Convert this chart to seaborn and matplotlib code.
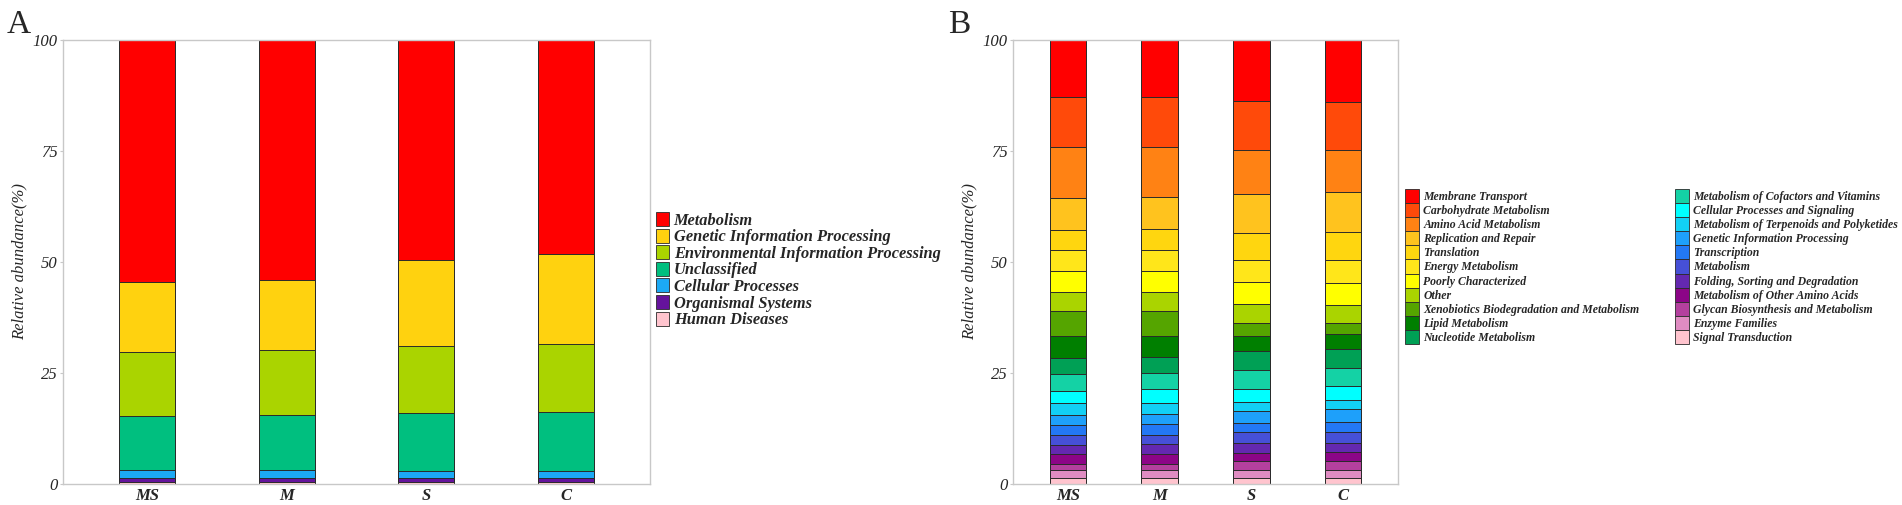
import matplotlib
matplotlib.use("Agg")
import matplotlib.pyplot as plt
from matplotlib.patches import Patch
import seaborn as sns
import pandas as pd

sns.set_style("white")
plt.rcParams["font.family"] = ["Liberation Serif", "DejaVu Serif"]

samples = ["MS", "M", "S", "C"]

# ---------- Panel A (legend order: top of stack -> bottom) ----------
a_categories = ["Metabolism", "Genetic Information Processing",
                "Environmental Information Processing", "Unclassified",
                "Cellular Processes", "Organismal Systems", "Human Diseases"]
a_colors = ["#FF0000", "#FFD20F", "#AAD400", "#00BF7F",
            "#1CA9F5", "#65139C", "#FFC4CE"]
a_MS = [54.6, 15.7, 14.4, 12.22, 1.65, 0.90, 0.53]
a_M = [54.0, 15.9, 14.5, 12.52, 1.65, 0.90, 0.53]
a_S = [49.5, 19.5, 15.1, 12.97, 1.58, 0.90, 0.45]
a_C = [48.2, 20.2, 15.5, 13.25, 1.57, 0.78, 0.50]

# ---------- Panel B (legend order: top of stack -> bottom) ----------
b_categories = ["Membrane Transport", "Carbohydrate Metabolism",
                "Amino Acid Metabolism", "Replication and Repair",
                "Translation", "Energy Metabolism", "Poorly Characterized",
                "Other", "Xenobiotics Biodegradation and Metabolism",
                "Lipid Metabolism", "Nucleotide Metabolism",
                "Metabolism of Cofactors and Vitamins",
                "Cellular Processes and Signaling",
                "Metabolism of Terpenoids and Polyketides",
                "Genetic Information Processing", "Transcription",
                "Metabolism", "Folding, Sorting and Degradation",
                "Metabolism of Other Amino Acids",
                "Glycan Biosynthesis and Metabolism", "Enzyme Families",
                "Signal Transduction"]
b_colors = ["#FF0000", "#FF4A0A", "#FF8214", "#FFC31E", "#FFD60F",
            "#FFE61A", "#FFFF00", "#AAD400", "#55A500", "#007F00",
            "#00A055", "#14D2A5", "#00FFFF", "#12D0F5", "#1EA0FA",
            "#2378F5", "#4650D7", "#6428B0", "#8C0587", "#B4409E",
            "#E08CC2", "#FFC4CE"]
b_MS = [12.9, 11.35, 11.35, 7.2, 4.5, 4.7, 4.7, 4.3, 5.8, 4.9, 3.5,
        3.8, 2.7, 2.8, 2.2, 2.2, 2.4, 2.0, 2.15, 1.49, 1.64, 1.42]
b_M = [13.0, 11.2, 11.2, 7.2, 4.7, 4.7, 4.7, 4.3, 5.6, 4.8, 3.6,
       3.7, 3.0, 2.6, 2.3, 2.3, 2.2, 2.1, 2.2, 1.54, 1.64, 1.42]
b_S = [13.9, 11.0, 9.9, 8.8, 5.9, 5.1, 4.9, 4.2, 2.9, 3.4, 4.4,
       4.2, 2.9, 2.1, 2.6, 2.2, 2.4, 2.3, 1.8, 1.9, 1.93, 1.27]
b_C = [14.0, 10.8, 9.5, 9.1, 6.2, 5.1, 5.0, 4.1, 2.5, 3.3, 4.4,
       4.0, 3.1, 2.1, 2.8, 2.3, 2.4, 2.2, 1.9, 2.0, 1.93, 1.27]

W, H = 1902, 505
fig = plt.figure(figsize=(W / 100, H / 100), dpi=100)
axA = fig.add_axes([63 / W, 21 / H, 587 / W, 444.5 / H])
axB = fig.add_axes([1013 / W, 21 / H, 385 / W, 444.5 / H])

EDGE = "#2a2a2a"


def stacked(ax, categories, colors, series):
    df = pd.DataFrame(series, index=categories, columns=samples)
    # cumulative from bottom of stack
    cum = df.iloc[::-1].cumsum().iloc[::-1]
    for cat, col in zip(categories, colors):
        d = pd.DataFrame({"sample": samples, "value": cum.loc[cat].values})
        sns.barplot(data=d, x="sample", y="value", order=samples, color=col,
                    saturation=1, width=0.4, edgecolor=EDGE, linewidth=0.7,
                    errorbar=None, ax=ax)
    ax.set_xlim(-0.6, 3.6)
    ax.set_ylim(0, 100)
    ax.set_yticks([0, 25, 50, 75, 100])
    ax.set_yticklabels(["0", "25", "50", "75", "100"],
                       fontstyle="italic", fontsize=12)
    ax.set_xticks(range(len(samples)))
    ax.set_xticklabels(samples, fontstyle="italic", fontweight="bold",
                       fontsize=12)
    ax.set_xlabel("")
    ax.set_ylabel("Relative abundance(%)", fontstyle="italic", fontsize=12)
    for sp in ax.spines.values():
        sp.set_visible(True)
        sp.set_color("#c8c8c8")
        sp.set_linewidth(1.0)
    ax.tick_params(axis="both", length=2, width=0.8, color="#c8c8c8",
                   pad=2, left=True, bottom=False)
    ax.tick_params(axis="x", pad=1)


stackedA = {s: v for s, v in zip(samples, [a_MS, a_M, a_S, a_C])}
stackedB = {s: v for s, v in zip(samples, [b_MS, b_M, b_S, b_C])}
stacked(axA, a_categories, a_colors, stackedA)
stacked(axB, b_categories, b_colors, stackedB)
axA.yaxis.set_label_coords(-36 / 587, 0.5)
axB.yaxis.set_label_coords(-36 / 385, 0.5)

# panel letters
fig.text(7 / W, 1 - 33 / H, "A", fontsize=24, va="baseline", ha="left")
fig.text(948 / W, 1 - 33 / H, "B", fontsize=24, va="baseline", ha="left")

legfont = {"family": "Liberation Serif", "style": "italic", "weight": "bold"}


def make_legend(cats, cols, x, y, size, hh, hl, ls, pad):
    handles = [Patch(facecolor=c, edgecolor=EDGE, linewidth=0.6) for c in cols]
    leg = fig.legend(handles, cats, loc="upper left",
                     bbox_to_anchor=(x / W, 1 - y / H),
                     bbox_transform=fig.transFigure, frameon=False,
                     borderpad=0, borderaxespad=0, handlelength=hl,
                     handleheight=hh, labelspacing=ls, handletextpad=pad,
                     prop=dict(legfont, size=size))
    return leg


make_legend(a_categories, a_colors, 656, 212, 11.8, 0.93, 0.8, 0.0, 0.28)
make_legend(b_categories[:11], b_colors[:11], 1405, 189, 8.5, 1.46, 1.2, 0.0, 0.35)
make_legend(b_categories[11:], b_colors[11:], 1675, 189, 8.5, 1.46, 1.2, 0.0, 0.35)

fig.savefig("out.png", dpi=100, facecolor="white")
